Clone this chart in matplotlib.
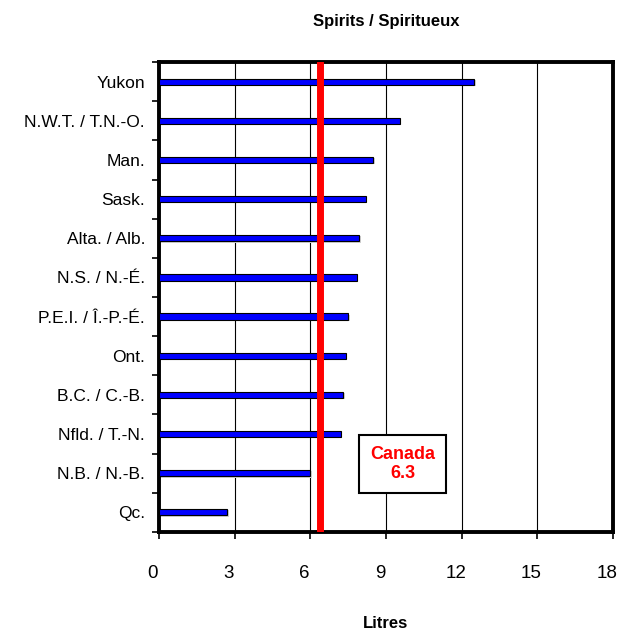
import numpy as np
import matplotlib
matplotlib.use("Agg")
import matplotlib.pyplot as plt
from matplotlib.transforms import ScaledTranslation

# provinces, bottom to top
provinces = ["Qc.", "N.B. / N.-B.", "Nfld. / T.-N.", "B.C. / C.-B.", "Ont.",
             "P.E.I. / Î.-P.-É.", "N.S. / N.-É.", "Alta. / Alb.", "Sask.",
             "Man.", "N.W.T. / T.N.-O.", "Yukon"]
litres = [2.7, 6.0, 7.2, 7.3, 7.4, 7.5, 7.85, 7.95, 8.2, 8.5, 9.55, 12.5]
canada_line = 6.4
canada_label = "Canada\n6.3"
xticks = [0, 3, 6, 9, 12, 15, 18]

plt.rcParams['font.family'] = ['Liberation Sans', 'DejaVu Sans']

fig = plt.figure(figsize=(6.21, 6.34), dpi=100)
ax = fig.add_axes([0.256, 0.161, 0.731, 0.741])

y = np.arange(len(provinces))

# grey shadow, then blue bars
ax.barh(y - 0.03, np.array(litres) + 0.06, height=0.16, color="#d0d0d0", zorder=2)
ax.barh(y, litres, height=0.16, color="#0000ff", edgecolor="black", linewidth=0.8, zorder=3)

ax.axvline(canada_line, color="#ff0000", linewidth=5, zorder=4)
ax.text(9.66, 1.24, canada_label, color="#ff0000", fontsize=13, fontweight="bold",
        ha="center", va="center", linespacing=1.15, zorder=5,
        bbox=dict(boxstyle="square,pad=0.6", facecolor="white", edgecolor="black", linewidth=1.5))

ax.set_xlim(0, 18)
ax.set_ylim(-0.5, len(provinces) - 0.5)
ax.set_xticks(xticks)
ax.set_xticklabels([])
ax.xaxis.grid(True, color="black", linewidth=0.8)
ax.set_axisbelow(True)

# x labels drawn by hand, sitting a little left of their ticks as in the original
shift = ScaledTranslation(-6 / 100, -33 / 100, fig.dpi_scale_trans)
for t in xticks:
    ax.text(t, 0, str(t), fontsize=13.5, ha="center", va="top",
            transform=ax.get_xaxis_transform() + shift, clip_on=False)

# category labels centered, ticks between categories
ax.set_yticks(y)
ax.set_yticklabels(provinces, fontsize=12.5)
ax.tick_params(axis="y", which="major", length=0, pad=10)
ax.set_yticks(np.arange(-0.5, len(provinces)), minor=True)
ax.tick_params(axis="y", which="minor", length=5, width=1.2, direction="out")
ax.tick_params(axis="x", length=5, width=1.2, direction="out")

for s in ax.spines.values():
    s.set_linewidth(2.8)

ax.set_title("Spirits / Spiritueux", fontsize=12, fontweight="bold", pad=26)
ax.set_xlabel("Litres", fontsize=12, fontweight="bold", labelpad=52)

fig.savefig("out.png", dpi=100)
